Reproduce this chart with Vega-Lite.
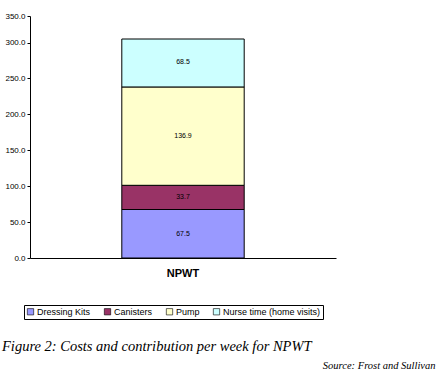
{
  "$schema": "https://vega.github.io/schema/vega-lite/v6.json",
  "width": 306,
  "height": 242,
  "autosize": "none",
  "padding": {"left": 30, "top": 16, "right": 100, "bottom": 114},
  "background": "white",
  "config": {"view": {"stroke": null}, "font": "Liberation Sans"},
  "title": {
    "text": "Figure 2: Costs and contribution per week for NPWT",
    "orient": "bottom",
    "anchor": "start",
    "frame": "group",
    "font": "Liberation Serif",
    "fontStyle": "italic",
    "fontWeight": "normal",
    "fontSize": 14.5,
    "color": "black",
    "offset": 0,
    "dy": -31,
    "dx": -28
  },
  "data": {
    "values": [
      {"cat": "NPWT", "component": "Dressing Kits", "value": 67.5, "ord": 1},
      {"cat": "NPWT", "component": "Canisters", "value": 33.7, "ord": 2},
      {"cat": "NPWT", "component": "Pump", "value": 136.9, "ord": 3},
      {"cat": "NPWT", "component": "Nurse time (home visits)", "value": 68.5, "ord": 4}
    ]
  },
  "transform": [
    {"stack": "value", "groupby": ["cat"], "sort": [{"field": "ord"}], "as": ["y0", "y1"]},
    {"calculate": "(datum.y0 + datum.y1) / 2", "as": "ymid"}
  ],
  "encoding": {
    "x": {
      "field": "cat",
      "type": "nominal",
      "scale": {"paddingInner": 0, "paddingOuter": 0.75},
      "axis": {
        "title": "Source: Frost and Sullivan",
        "titleFont": "Liberation Serif",
        "titleFontStyle": "italic",
        "titleFontWeight": "normal",
        "titleFontSize": 10.5,
        "titleColor": "black",
        "titleAnchor": "end",
        "titleAlign": "right",
        "titleBaseline": "alphabetic",
        "titleX": 405,
        "titleY": 110,
        "labelAngle": 0,
        "labelFont": "Liberation Sans",
        "labelFontWeight": "bold",
        "labelFontSize": 11,
        "labelColor": "black",
        "labelPadding": 9,
        "ticks": false,
        "domainColor": "black",
        "domainWidth": 1
      }
    }
  },
  "layer": [
    {
      "mark": {"type": "bar", "stroke": "black", "strokeWidth": 1},
      "encoding": {
        "y": {
          "field": "y0",
          "type": "quantitative",
          "scale": {"domain": [0, 300, 350], "range": [242, 26.5, 0]},
          "axis": {
            "title": null,
            "values": [0, 50, 100, 150, 200, 250, 300, 350],
            "tickCount": 20,
            "format": ".1f",
            "labelOverlap": false,
            "grid": false,
            "labelFont": "Liberation Sans",
            "labelFontSize": 8,
            "labelColor": "black",
            "tickColor": "black",
            "tickSize": 3,
            "labelPadding": 2,
            "domainColor": "black",
            "domainWidth": 1
          }
        },
        "y2": {"field": "y1"},
        "color": {
          "field": "component",
          "type": "nominal",
          "sort": ["Dressing Kits", "Canisters", "Pump", "Nurse time (home visits)"],
          "scale": {
            "domain": ["Dressing Kits", "Canisters", "Pump", "Nurse time (home visits)"],
            "range": ["#9999FF", "#993366", "#FFFFCC", "#CCFFFF"]
          },
          "legend": {
            "title": null,
            "orient": "none",
            "direction": "horizontal",
            "legendX": -6,
            "legendY": 289,
            "strokeColor": "black",
            "padding": 2,
            "symbolType": "square",
            "symbolSize": 40,
            "symbolStrokeColor": "black",
            "symbolStrokeWidth": 0.6,
            "symbolOpacity": 1,
            "labelFont": "Liberation Sans",
            "labelFontSize": 9,
            "labelColor": "black",
            "labelOffset": 2,
            "columnPadding": 12
          }
        }
      }
    },
    {
      "mark": {"type": "text", "font": "Liberation Sans", "fontSize": 7, "color": "black"},
      "encoding": {
        "y": {"field": "ymid", "type": "quantitative"},
        "text": {"field": "value", "type": "quantitative", "format": ".1f"}
      }
    }
  ]
}
